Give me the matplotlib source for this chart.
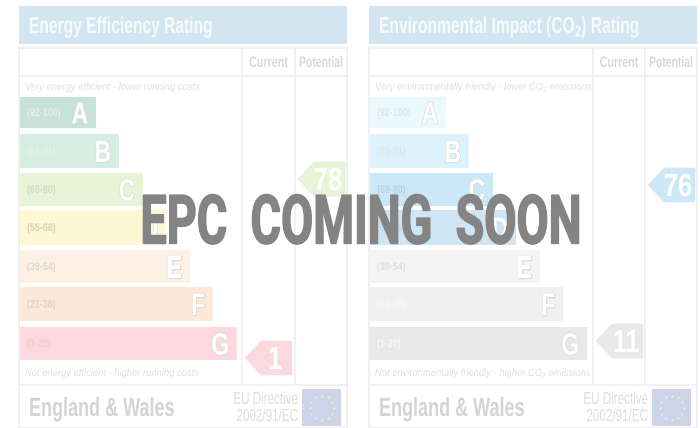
import numpy as np
import matplotlib
matplotlib.use('Agg')
import matplotlib.pyplot as plt
from matplotlib.patches import Rectangle, Polygon
from matplotlib.patheffects import AbstractPathEffect
from matplotlib.transforms import Affine2D

plt.rcParams['font.family'] = ['Liberation Sans', 'DejaVu Sans']
plt.rcParams['mathtext.default'] = 'regular'

# Datos do grafico
letras = ['A', 'B', 'C', 'D', 'E', 'F', 'G']
faixas = ['(92-100)', '(81-91)', '(69-80)', '(55-68)', '(39-54)', '(21-38)', '(1-20)']
comprimentos = [77, 100, 124, 147, 171, 194, 218]
topos = [97, 134, 173, 210, 250, 287, 327]
bases = [128, 168, 206, 245, 283, 321, 360]

cores_energia = ['#c8e2da', '#d5eee1', '#e8f4d6', '#fdf7d3', '#fdf1e5', '#fce8d8', '#fbd9df']
cores_ambiente = ['#ebf8fd', '#def2fb', '#cbe8f8', '#cfe5f3', '#f4f4f4', '#f0f0f0', '#e8e8e8']
cores_faixa_energia = ['#e6eeee', '#e6f0ea', '#d8d8c8', '#d8d4b8', '#dcd8d0', '#dcd4cc', '#ecccd2']
cores_faixa_ambiente = ['#dfe5e9', '#dee7ec', '#bcd0de', '#c6d8e3', '#dedede', '#f8f8f8', '#f8f8f8']

notas_energia = [1, 78]
y_notas_energia = [358, 179]
cores_notas_energia = ['#fbd9df', '#e8f4d6']
notas_ambiente = [11, 76]
y_notas_ambiente = [341, 185]
cores_notas_ambiente = ['#e8e8e8', '#cbe8f8']


class Aperta(AbstractPathEffect):
    # comprime o texto na horizontal (a fonte original e condensada)
    def __init__(self, cx, sx, borda=None, lw=0):
        super().__init__()
        self.cx = cx
        self.sx = sx
        self.borda = borda
        self.lw = lw

    def draw_path(self, renderer, gc, tpath, affine, rgbFace):
        t = affine + Affine2D().translate(-self.cx, 0).scale(self.sx, 1).translate(self.cx, 0)
        if self.borda is not None:
            gc0 = renderer.new_gc()
            gc0.copy_properties(gc)
            gc0.set_foreground(self.borda)
            gc0.set_linewidth(self.lw)
            renderer.draw_path(gc0, tpath, t, rgbFace)
            gc0.restore()
        renderer.draw_path(gc, tpath, t, rgbFace)


fig = plt.figure(figsize=(7, 4.28), dpi=100)
ax = fig.add_axes([0, 0, 1, 1])
ax.set_xlim(0, 700)
ax.set_ylim(428, 0)
ax.axis('off')


def texto(x, y, s, size, cor, ha='left', sx=0.8, borda=None, lw=0, **kw):
    cx = ax.transData.transform((x, y))[0]
    t = ax.text(x, y, s, fontsize=size, color=cor, ha=ha, va='baseline', **kw)
    ef = [Aperta(cx, sx)] if borda is None else [Aperta(cx, sx, borda, lw)]
    t.set_path_effects(ef)
    return t


def painel(x0, titulo, topo_txt, base_txt, col1, col2, cores, cores_faixa, notas, y_notas, cores_notas):
    x1 = x0 + 328
    lin = '#eeeeee'
    ax.add_patch(Rectangle((x0, 6), 328, 38, fc='#d3e5f1', ec='none'))
    texto(x0 + 10, 33, titulo, 16.5, '#f6fafc', fontweight='bold', sx=0.68)

    # moldura da tabela
    ax.plot([x0, x1, x1, x0, x0], [48, 48, 428, 428, 48], color=lin, lw=1.2)
    ax.plot([x0, x1], [76, 76], color=lin, lw=1.1)
    ax.plot([x0, x1], [385, 385], color=lin, lw=1.1)
    ax.plot([col1, col1], [48, 385], color=lin, lw=1.1)
    ax.plot([col2, col2], [48, 385], color=lin, lw=1.1)
    texto((col1 + col2) / 2, 67, 'Current', 11, '#d8d8d8', ha='center', fontweight='bold', sx=0.70)
    texto((col2 + x1) / 2, 67, 'Potential', 11, '#d8d8d8', ha='center', fontweight='bold', sx=0.68)
    texto(x0 + 6, 90, topo_txt, 7.6, '#e0e0e0', style='italic', sx=0.89)
    texto(x0 + 6, 376, base_txt, 7.6, '#e0e0e0', style='italic', sx=0.89)

    # barras A-G
    for i in range(len(letras)):
        ax.add_patch(Rectangle((x0 + 1, topos[i]), comprimentos[i] - 1, bases[i] - topos[i],
                               fc=cores[i], ec='none'))
        meio = (topos[i] + bases[i]) / 2
        texto(x0 + 8, meio + 3.5, faixas[i], 8, cores_faixa[i], fontweight='bold', sx=0.8)
        texto(x0 + comprimentos[i] - 8, meio + 11, letras[i], 22, 'white', ha='right',
              sx=0.74, borda='#dcdcdc', lw=1.0, fontweight='bold')

    # setas com as notas
    colunas = [col1, col2]
    for i in range(2):
        ye = colunas[i] + 3
        yc = y_notas[i]
        ax.add_patch(Polygon([(ye, yc), (ye + 16, yc - 17), (ye + 47, yc - 17), (ye + 47, yc + 17),
                              (ye + 16, yc + 17)], closed=True, fc=cores_notas[i], ec='#e8e8e8', lw=0.5))
        texto(ye + 30, yc + 11, str(notas[i]), 23, 'white', ha='center', sx=0.8, fontweight='bold')

    # rodape
    texto(x0 + 10, 416, 'England & Wales', 19, '#d4d4d4', fontweight='bold', sx=0.683)
    texto(col2 + 3, 404, 'EU Directive', 12.5, '#dedede', ha='right', sx=0.67)
    texto(col2 + 3, 421, '2002/91/EC', 12.5, '#dedede', ha='right', sx=0.67)
    fx = col2 + 7
    ax.add_patch(Rectangle((fx, 389), 39, 37, fc='#ccd5e8', ec='none'))
    ang = np.arange(12) * np.pi / 6
    ax.scatter(fx + 19.5 + 12 * np.cos(ang), 407.5 + 12 * np.sin(ang), s=2.5, color='#ecedd8', linewidths=0)


painel(19, 'Energy Efficiency Rating', 'Very energy efficient - lower running costs',
       'Not energy efficient - higher running costs', 242, 295,
       cores_energia, cores_faixa_energia, notas_energia, y_notas_energia, cores_notas_energia)
painel(369, 'Environmental Impact (CO$_2$) Rating', 'Very environmentally friendly - lower CO$_2$ emissions',
       'Not environmentally friendly - higher CO$_2$ emissions', 593, 645,
       cores_ambiente, cores_faixa_ambiente, notas_ambiente, y_notas_ambiente, cores_notas_ambiente)

texto(361, 243.5, 'EPC  COMING  SOON', 49, '#848484', ha='center', sx=0.685,
      family=['Roboto', 'DejaVu Sans'], fontweight='bold', borda='#848484', lw=1.0)

fig.savefig('out.png', dpi=100)
